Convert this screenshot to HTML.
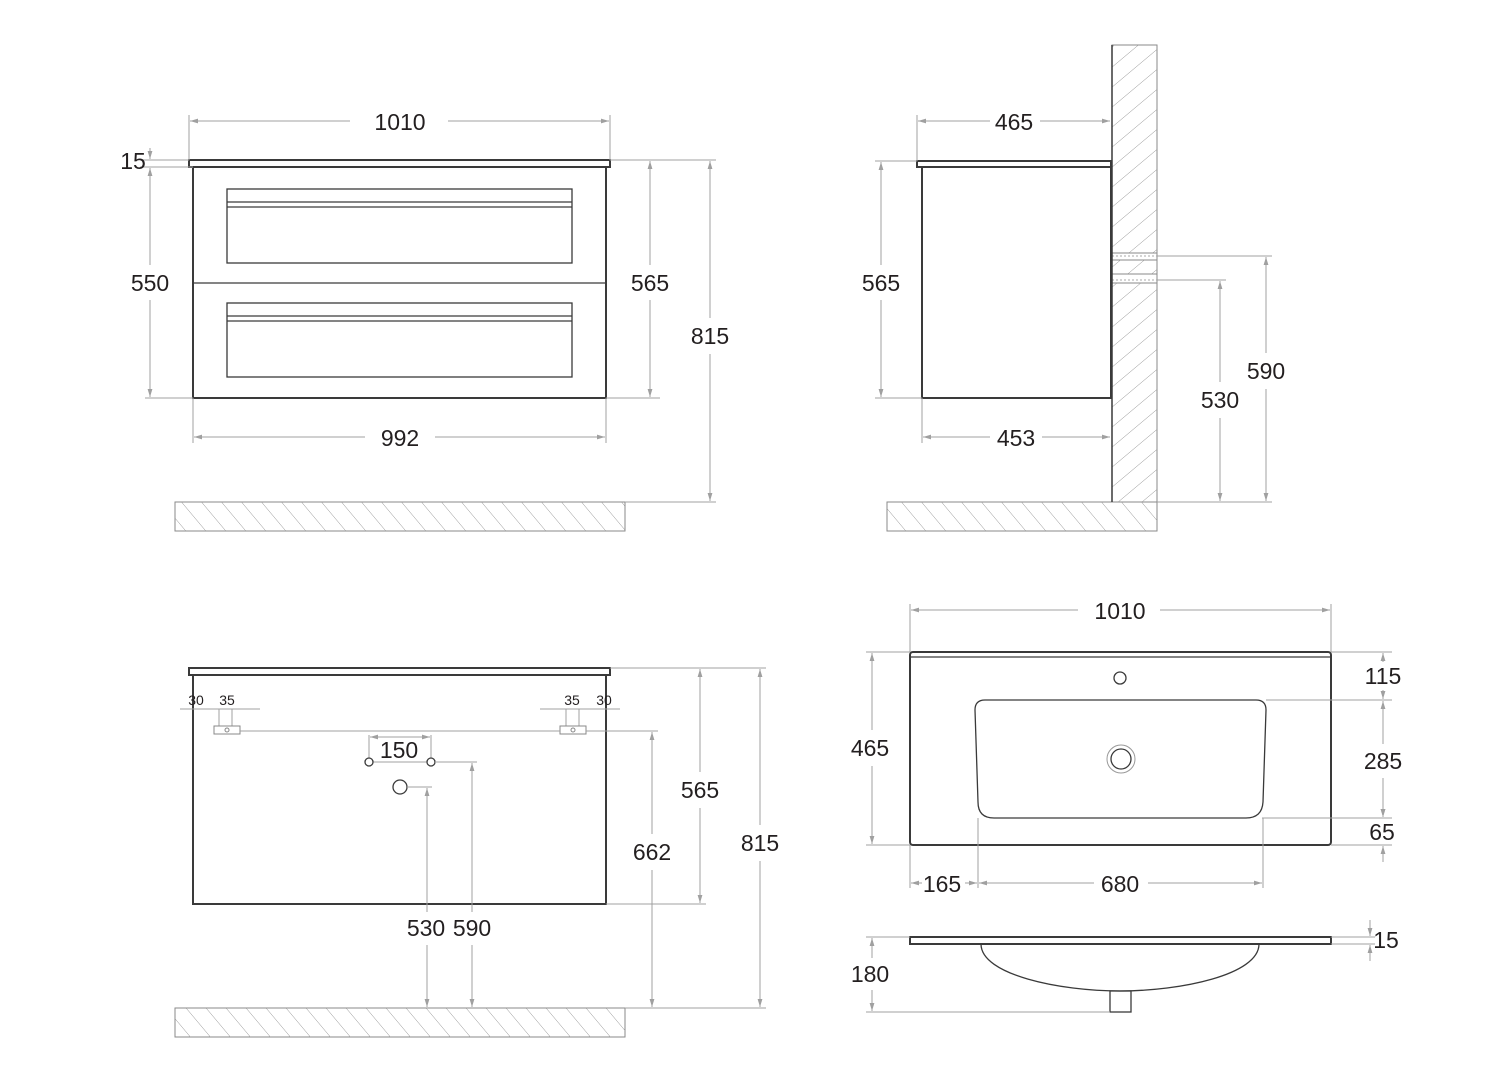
<!DOCTYPE html>
<html><head><meta charset="utf-8"><style>
html,body{margin:0;padding:0;background:#fff;}
svg{display:block;}
text{font-family:"Liberation Sans",sans-serif;font-size:23px;fill:#231f20;text-anchor:middle;dominant-baseline:central;}
.s{font-size:14px;}
.d{stroke:#a0a0a0;stroke-width:1;fill:none;}
.o{stroke:#3a3a3a;stroke-width:2;fill:#fff;}
.t{stroke:#3a3a3a;stroke-width:1.3;fill:none;}
.h{stroke:#8a8a8a;stroke-width:1;}
</style></head><body>
<svg width="1500" height="1083" viewBox="0 0 1500 1083" xmlns="http://www.w3.org/2000/svg">
<defs>
<marker id="a" viewBox="0 0 10 6" refX="10" refY="3" markerWidth="8" markerHeight="5" orient="auto-start-reverse" markerUnits="userSpaceOnUse"><path d="M0,0L10,3L0,6z" fill="#a0a0a0"/></marker>
<pattern id="hf" width="20" height="40" patternUnits="userSpaceOnUse" patternTransform="skewX(40)"><line x1="0" y1="0" x2="0" y2="40" stroke="#8a8a8a" stroke-width="1"/></pattern>
<pattern id="hw" width="40" height="20" patternUnits="userSpaceOnUse" patternTransform="skewY(-40)"><line x1="0" y1="0" x2="40" y2="0" stroke="#8a8a8a" stroke-width="1"/></pattern>
</defs>

<rect x="175" y="502" width="450" height="29" fill="url(#hf)" stroke="#8a8a8a"/>
<rect x="189" y="160" width="421" height="7" class="o" stroke-width="1.5"/>
<rect x="193" y="167" width="413" height="231" class="o"/>
<line x1="193" y1="283" x2="606" y2="283" class="t"/>
<rect x="227" y="189" width="345" height="74" class="t"/>
<line x1="227" y1="202" x2="572" y2="202" class="t"/><line x1="227" y1="207" x2="572" y2="207" class="t"/>
<rect x="227" y="303" width="345" height="74" class="t"/>
<line x1="227" y1="316" x2="572" y2="316" class="t"/><line x1="227" y1="321" x2="572" y2="321" class="t"/>
<line x1="189" y1="115" x2="189" y2="160" class="d"/><line x1="610" y1="115" x2="610" y2="160" class="d"/>
<line x1="190" y1="121" x2="350" y2="121" class="d" marker-start="url(#a)"/><line x1="448" y1="121" x2="609" y2="121" class="d" marker-end="url(#a)"/>
<text x="400" y="122">1010</text>
<line x1="140" y1="160" x2="189" y2="160" class="d"/><line x1="140" y1="167" x2="193" y2="167" class="d"/>
<line x1="150" y1="148" x2="150" y2="159" class="d" marker-end="url(#a)"/>
<text x="133" y="161">15</text>
<line x1="145" y1="398" x2="193" y2="398" class="d"/>
<line x1="150" y1="168" x2="150" y2="265" class="d" marker-start="url(#a)"/><line x1="150" y1="300" x2="150" y2="397" class="d" marker-end="url(#a)"/>
<text x="150" y="283">550</text>
<line x1="610" y1="160" x2="716" y2="160" class="d"/><line x1="606" y1="398" x2="660" y2="398" class="d"/><line x1="625" y1="502" x2="716" y2="502" class="d"/>
<line x1="650" y1="161" x2="650" y2="265" class="d" marker-start="url(#a)"/><line x1="650" y1="300" x2="650" y2="397" class="d" marker-end="url(#a)"/>
<text x="650" y="283">565</text>
<line x1="710" y1="161" x2="710" y2="318" class="d" marker-start="url(#a)"/><line x1="710" y1="354" x2="710" y2="501" class="d" marker-end="url(#a)"/>
<text x="710" y="336">815</text>
<line x1="193" y1="398" x2="193" y2="443" class="d"/><line x1="606" y1="398" x2="606" y2="443" class="d"/>
<line x1="194" y1="437" x2="365" y2="437" class="d" marker-start="url(#a)"/><line x1="435" y1="437" x2="605" y2="437" class="d" marker-end="url(#a)"/>
<text x="400" y="438">992</text>

<rect x="887" y="502" width="270" height="29" fill="url(#hf)" stroke="#8a8a8a"/>
<rect x="1112" y="45" width="45" height="208" fill="url(#hw)" stroke="#8a8a8a"/>
<rect x="1112" y="260" width="45" height="14" fill="url(#hw)" stroke="#8a8a8a"/>
<rect x="1112" y="283" width="45" height="219" fill="url(#hw)" stroke="#8a8a8a"/>
<rect x="1112" y="253" width="45" height="7" fill="#fff" stroke="#8a8a8a"/>
<rect x="1112" y="274" width="45" height="9" fill="#fff" stroke="#8a8a8a"/>
<line x1="1112" y1="256" x2="1157" y2="256" stroke="#aaa" stroke-dasharray="2,2"/>
<line x1="1112" y1="280" x2="1157" y2="280" stroke="#aaa" stroke-dasharray="2,2"/>
<line x1="1112" y1="45" x2="1112" y2="502" stroke="#3a3a3a" stroke-width="1.5"/>
<rect x="917" y="161" width="194" height="6" class="o" stroke-width="1.5"/>
<rect x="922" y="167" width="189" height="231" class="o"/>
<line x1="917" y1="115" x2="917" y2="161" class="d"/>
<line x1="918" y1="121" x2="990" y2="121" class="d" marker-start="url(#a)"/><line x1="1040" y1="121" x2="1110" y2="121" class="d" marker-end="url(#a)"/>
<text x="1014" y="122">465</text>
<line x1="875" y1="161" x2="917" y2="161" class="d"/><line x1="875" y1="398" x2="922" y2="398" class="d"/>
<line x1="881" y1="162" x2="881" y2="265" class="d" marker-start="url(#a)"/><line x1="881" y1="300" x2="881" y2="397" class="d" marker-end="url(#a)"/>
<text x="881" y="283">565</text>
<line x1="922" y1="398" x2="922" y2="443" class="d"/>
<line x1="923" y1="437" x2="990" y2="437" class="d" marker-start="url(#a)"/><line x1="1042" y1="437" x2="1110" y2="437" class="d" marker-end="url(#a)"/>
<text x="1016" y="438">453</text>
<line x1="1157" y1="256" x2="1272" y2="256" class="d"/><line x1="1157" y1="280" x2="1226" y2="280" class="d"/><line x1="1157" y1="502" x2="1272" y2="502" class="d"/>
<line x1="1220" y1="281" x2="1220" y2="382" class="d" marker-start="url(#a)"/><line x1="1220" y1="418" x2="1220" y2="501" class="d" marker-end="url(#a)"/>
<text x="1220" y="400">530</text>
<line x1="1266" y1="257" x2="1266" y2="353" class="d" marker-start="url(#a)"/><line x1="1266" y1="389" x2="1266" y2="501" class="d" marker-end="url(#a)"/>
<text x="1266" y="371">590</text>

<rect x="175" y="1008" width="450" height="29" fill="url(#hf)" stroke="#8a8a8a"/>
<rect x="189" y="668" width="421" height="7" class="o" stroke-width="1.5"/>
<rect x="193" y="675" width="413" height="229" class="o"/>
<line x1="180" y1="709" x2="260" y2="709" class="d"/><line x1="540" y1="709" x2="620" y2="709" class="d"/>
<line x1="219" y1="709" x2="219" y2="729" class="d"/><line x1="232" y1="709" x2="232" y2="729" class="d"/>
<line x1="566" y1="709" x2="566" y2="729" class="d"/><line x1="579" y1="709" x2="579" y2="729" class="d"/>
<text x="196" y="700" class="s">30</text><text x="227" y="700" class="s">35</text>
<text x="572" y="700" class="s">35</text><text x="604" y="700" class="s">30</text>
<rect x="214" y="726" width="26" height="8" fill="#fff" stroke="#888"/>
<rect x="560" y="726" width="26" height="8" fill="#fff" stroke="#888"/>
<circle cx="227" cy="730" r="2" fill="none" stroke="#888"/><circle cx="573" cy="730" r="2" fill="none" stroke="#888"/>
<line x1="240" y1="731" x2="560" y2="731" class="d"/><line x1="586" y1="731" x2="658" y2="731" class="d"/>
<line x1="369" y1="735" x2="369" y2="758" class="d"/><line x1="431" y1="735" x2="431" y2="758" class="d"/>
<line x1="370" y1="737" x2="430" y2="737" class="d" marker-start="url(#a)" marker-end="url(#a)"/>
<rect x="378" y="738" width="44" height="22" fill="#fff"/>
<text x="399" y="750">150</text>
<line x1="373" y1="762" x2="427" y2="762" class="d"/>
<circle cx="369" cy="762" r="4" class="t" fill="#fff"/><circle cx="431" cy="762" r="4" class="t" fill="#fff"/>
<line x1="435" y1="762" x2="477" y2="762" class="d"/>
<circle cx="400" cy="787" r="7" class="t" fill="#fff"/>
<line x1="407" y1="787" x2="432" y2="787" class="d"/>
<line x1="427" y1="788" x2="427" y2="912" class="d" marker-start="url(#a)"/><line x1="427" y1="945" x2="427" y2="1007" class="d" marker-end="url(#a)"/>
<line x1="472" y1="763" x2="472" y2="912" class="d" marker-start="url(#a)"/><line x1="472" y1="945" x2="472" y2="1007" class="d" marker-end="url(#a)"/>
<text x="426" y="928">530</text><text x="472" y="928">590</text>
<line x1="610" y1="668" x2="766" y2="668" class="d"/><line x1="606" y1="904" x2="706" y2="904" class="d"/><line x1="625" y1="1008" x2="766" y2="1008" class="d"/>
<line x1="700" y1="669" x2="700" y2="772" class="d" marker-start="url(#a)"/><line x1="700" y1="808" x2="700" y2="903" class="d" marker-end="url(#a)"/>
<text x="700" y="790">565</text>
<line x1="652" y1="732" x2="652" y2="834" class="d" marker-start="url(#a)"/><line x1="652" y1="870" x2="652" y2="1007" class="d" marker-end="url(#a)"/>
<text x="652" y="852">662</text>
<line x1="760" y1="669" x2="760" y2="825" class="d" marker-start="url(#a)"/><line x1="760" y1="861" x2="760" y2="1007" class="d" marker-end="url(#a)"/>
<text x="760" y="843">815</text>

<rect x="910" y="652" width="421" height="193" rx="3" class="o"/>
<line x1="911" y1="657" x2="1330" y2="657" class="t"/>
<path d="M975,710 Q975,700 985,700 L1256,700 Q1266,700 1266,710 L1263,802 Q1262,818 1246,818 L994,818 Q978,818 978,802 Z" class="t"/>
<circle cx="1120" cy="678" r="6" class="t"/>
<circle cx="1121" cy="759" r="14" fill="none" stroke="#999" stroke-width="1"/>
<circle cx="1121" cy="759" r="10" class="t" stroke-width="1.6"/>
<line x1="910" y1="604" x2="910" y2="652" class="d"/><line x1="1331" y1="604" x2="1331" y2="652" class="d"/>
<line x1="911" y1="610" x2="1078" y2="610" class="d" marker-start="url(#a)"/><line x1="1160" y1="610" x2="1330" y2="610" class="d" marker-end="url(#a)"/>
<text x="1120" y="611">1010</text>
<line x1="866" y1="652" x2="910" y2="652" class="d"/><line x1="866" y1="845" x2="910" y2="845" class="d"/>
<line x1="872" y1="653" x2="872" y2="730" class="d" marker-start="url(#a)"/><line x1="872" y1="766" x2="872" y2="844" class="d" marker-end="url(#a)"/>
<text x="870" y="748">465</text>
<line x1="1331" y1="652" x2="1392" y2="652" class="d"/><line x1="1266" y1="700" x2="1392" y2="700" class="d"/>
<line x1="1262" y1="818" x2="1392" y2="818" class="d"/><line x1="1331" y1="845" x2="1392" y2="845" class="d"/>
<line x1="1383" y1="653" x2="1383" y2="662" class="d" marker-start="url(#a)"/><line x1="1383" y1="690" x2="1383" y2="699" class="d" marker-end="url(#a)"/>
<text x="1383" y="676">115</text>
<line x1="1383" y1="701" x2="1383" y2="744" class="d" marker-start="url(#a)"/><line x1="1383" y1="778" x2="1383" y2="817" class="d" marker-end="url(#a)"/>
<text x="1383" y="761">285</text>
<line x1="1383" y1="808" x2="1383" y2="817" class="d" marker-end="url(#a)"/>
<line x1="1383" y1="862" x2="1383" y2="846" class="d" marker-end="url(#a)"/>
<text x="1382" y="832">65</text>
<line x1="910" y1="845" x2="910" y2="888" class="d"/><line x1="978" y1="818" x2="978" y2="888" class="d"/><line x1="1263" y1="818" x2="1263" y2="888" class="d"/>
<line x1="911" y1="883" x2="922" y2="883" class="d" marker-start="url(#a)"/><line x1="965" y1="883" x2="977" y2="883" class="d" marker-end="url(#a)"/>
<text x="942" y="884">165</text>
<line x1="979" y1="883" x2="1094" y2="883" class="d" marker-start="url(#a)"/><line x1="1148" y1="883" x2="1262" y2="883" class="d" marker-end="url(#a)"/>
<text x="1120" y="884">680</text>

<path d="M981,944 C981,975 1060,991 1120,991 C1180,991 1259,975 1259,944" class="t"/>
<rect x="910" y="937" width="421" height="7" class="o" stroke-width="1.5"/>
<rect x="1110" y="991" width="21" height="21" class="t" fill="#fff"/>
<line x1="866" y1="937" x2="910" y2="937" class="d"/><line x1="866" y1="1012" x2="1110" y2="1012" class="d"/>
<line x1="872" y1="938" x2="872" y2="958" class="d" marker-start="url(#a)"/><line x1="872" y1="990" x2="872" y2="1011" class="d" marker-end="url(#a)"/>
<text x="870" y="974">180</text>
<line x1="1331" y1="937" x2="1375" y2="937" class="d"/><line x1="1331" y1="944" x2="1375" y2="944" class="d"/>
<line x1="1370" y1="920" x2="1370" y2="936" class="d" marker-end="url(#a)"/>
<line x1="1370" y1="961" x2="1370" y2="945" class="d" marker-end="url(#a)"/>
<text x="1386" y="940">15</text>
</svg>
</body></html>
